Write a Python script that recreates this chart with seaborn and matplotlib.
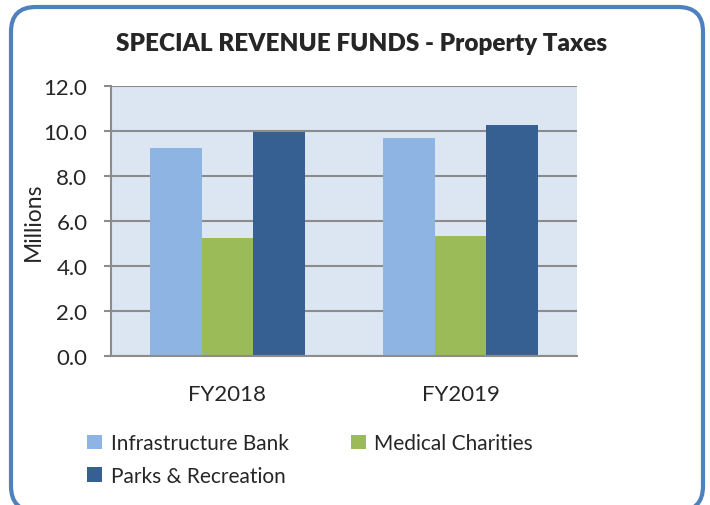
import matplotlib
matplotlib.use("Agg")
import matplotlib.pyplot as plt
import seaborn as sns
import pandas as pd
from matplotlib.patches import FancyBboxPatch

years = ["FY2018", "FY2019"]
series = ["Infrastructure Bank", "Medical Charities", "Parks & Recreation"]
infrastructure_bank = [9.25, 9.7]
medical_charities = [5.25, 5.35]
parks_recreation = [9.95, 10.25]
yticks = [0.0, 2.0, 4.0, 6.0, 8.0, 10.0, 12.0]
colors = ["#8EB4E3", "#9BBB59", "#366092"]

rows = []
for s, vals in zip(series, [infrastructure_bank, medical_charities, parks_recreation]):
    for y, v in zip(years, vals):
        rows.append({"Year": y, "Fund": s, "Value": v})
df = pd.DataFrame(rows)

sns.set_theme(style="white")
plt.rcParams['font.family'] = ['Lato', 'DejaVu Sans']

fig = plt.figure(figsize=(7.1, 5.06), dpi=100)
ax = fig.add_axes([111/710, 1-357/506, (577-111)/710, (357-87)/506])

sns.barplot(data=df, x="Year", y="Value", hue="Fund", hue_order=series,
            palette=colors, width=0.665, gap=0, ax=ax, saturation=1,
            edgecolor="none", legend=True)

ax.set_facecolor("#DCE6F2")
ax.set_ylim(0, 12)
ax.set_xlim(-0.5, 1.5)
ax.set_yticks(yticks)
ax.set_yticklabels([f"{t:.1f}" for t in yticks], fontsize=16)
ax.yaxis.grid(True, color="#8C8C8C", linewidth=1.5)
ax.set_axisbelow(True)
ax.set_xlabel("")
ax.set_ylabel("Millions", fontsize=16.5, labelpad=0)
ax.set_xticks([0, 1])
ax.set_xticklabels(years, fontsize=16)
ax.tick_params(axis="x", length=0, pad=20)
ax.set_xticks([-0.5, 0.5, 1.5], minor=True)
ax.tick_params(axis="x", which="minor", length=8, width=1.5, color="#8C8C8C", direction="out")
ax.tick_params(axis="y", length=5, width=1.5, color="#8C8C8C", direction="out", left=True, pad=12)
for side in ["top", "right"]:
    ax.spines[side].set_visible(False)
for side in ["left", "bottom"]:
    ax.spines[side].set_color("#8C8C8C")
    ax.spines[side].set_linewidth(1.5)

handles, labels = ax.get_legend_handles_labels()
ax.get_legend().remove()
order = [0, 2, 1]
fig.legend([handles[i] for i in order], [labels[i] for i in order], ncol=2, loc="upper left",
           bbox_to_anchor=(79/710, 1-426/506),
           frameon=False, fontsize=15, handlelength=0.72, handleheight=0.72,
           handletextpad=0.4, columnspacing=3.0, labelspacing=0.6, borderaxespad=0)

fig.text(362/710, 1-44/506, "SPECIAL REVENUE FUNDS - Property Taxes", ha="center", va="center",
         fontsize=17.5, fontweight="heavy")

border = FancyBboxPatch((11/710, -6/506), 692/710, (506-8+6)/506,
                        boxstyle="round,pad=0,rounding_size=0.035", transform=fig.transFigure,
                        facecolor="none", edgecolor="#4F81BD", linewidth=3, clip_on=False,
                        mutation_aspect=710/506)
fig.patches.append(border)

fig.savefig("out.png", dpi=100)
